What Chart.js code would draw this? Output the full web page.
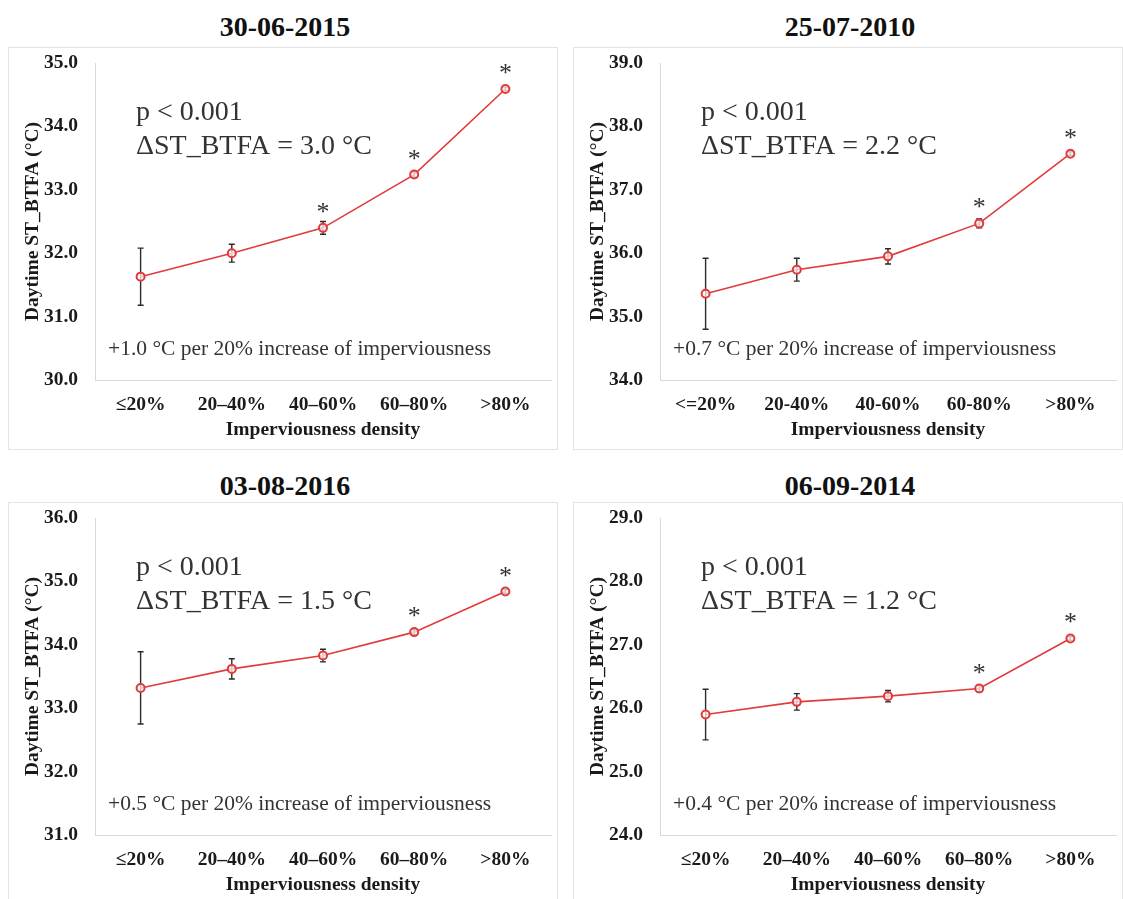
<!DOCTYPE html>
<html>
<head>
<meta charset="utf-8">
<script src="https://cdn.jsdelivr.net/npm/chart.js@4.4.1/dist/chart.umd.min.js"></script>
<style>
  body { margin: 0; width: 1123px; height: 899px; overflow: hidden; background: #fff; position: relative; }
  .title { position: absolute; width: 550px; text-align: center; font: bold 28px "Liberation Serif", "Times New Roman", serif; line-height: 32px; color: #111; }
  .box { position: absolute; width: 550px; height: 403px; border: 1px solid #e4e4e4; box-sizing: border-box; background: #fff; }
  .box canvas { position: absolute; left: 0; top: 0; }
</style>
</head>
<body>
<div class="title" style="left:10px;top:11px">30-06-2015</div>
<div class="title" style="left:575px;top:11px">25-07-2010</div>
<div class="title" style="left:10px;top:470px">03-08-2016</div>
<div class="title" style="left:575px;top:470px">06-09-2014</div>
<div class="box" style="left:8px;top:47px"><canvas id="c1" width="548" height="401"></canvas></div>
<div class="box" style="left:573px;top:47px"><canvas id="c2" width="548" height="401"></canvas></div>
<div class="box" style="left:8px;top:502px"><canvas id="c3" width="548" height="401"></canvas></div>
<div class="box" style="left:573px;top:502px"><canvas id="c4" width="548" height="401"></canvas></div>
<script>
// ----- Data -----
const catsDash = ["≤20%", "20–40%", "40–60%", "60–80%", ">80%"];
const catsHyphen = ["<=20%", "20-40%", "40-60%", "60-80%", ">80%"];

const mean2015 = [31.63, 32.0, 32.4, 33.24, 34.59];
const err2015 = [0.45, 0.14, 0.1, 0.04, 0.03];
const star2015 = [false, false, true, true, true];

const mean2010 = [35.36, 35.74, 35.95, 36.47, 37.57];
const err2010 = [0.56, 0.18, 0.12, 0.07, 0.03];
const star2010 = [false, false, false, true, true];

const mean2016 = [33.32, 33.62, 33.83, 34.2, 34.84];
const err2016 = [0.57, 0.16, 0.1, 0.04, 0.03];
const star2016 = [false, false, false, true, true];

const mean2014 = [25.9, 26.1, 26.19, 26.31, 27.1];
const err2014 = [0.4, 0.13, 0.09, 0.05, 0.03];
const star2014 = [false, false, false, true, true];

const yRange2015 = [30, 35];
const yRange2010 = [34, 39];
const yRange2016 = [31, 36];
const yRange2014 = [24, 29];

const deltaTexts = ["3.0", "2.2", "1.5", "1.2"];
const slopeTexts = ["+1.0", "+0.7", "+0.5", "+0.4"];

const SERIF = '"Liberation Serif", "Times New Roman", serif';
const LINE_RED = "#e23a3a";

// ----- Error bars, stars and notes -----
const extras = {
  id: "extras",
  beforeDatasetsDraw(chart, args, opts) {
    const ctx = chart.ctx;
    const x = chart.scales.x, y = chart.scales.y;
    ctx.save();
    ctx.strokeStyle = "#2b2b2b";
    ctx.lineWidth = 1.4;
    opts.mean.forEach((m, i) => {
      const px = x.getPixelForValue(i);
      const top = y.getPixelForValue(m + opts.err[i]);
      const bot = y.getPixelForValue(m - opts.err[i]);
      ctx.beginPath();
      ctx.moveTo(px, top); ctx.lineTo(px, bot);
      ctx.moveTo(px - 3, top); ctx.lineTo(px + 3, top);
      ctx.moveTo(px - 3, bot); ctx.lineTo(px + 3, bot);
      ctx.stroke();
    });
    ctx.restore();
  },
  afterDatasetsDraw(chart, args, opts) {
    const ctx = chart.ctx;
    const area = chart.chartArea;
    const x = chart.scales.x, y = chart.scales.y;
    ctx.save();
    ctx.fillStyle = "#333";
    ctx.font = "26px " + SERIF;
    ctx.textAlign = "center";
    ctx.textBaseline = "alphabetic";
    const m = ctx.measureText("*");
    const shift = (m.actualBoundingBoxAscent - m.actualBoundingBoxDescent) / 2;
    opts.mean.forEach((v, i) => {
      if (!opts.stars[i]) return;
      const px = x.getPixelForValue(i);
      const py = y.getPixelForValue(v);
      ctx.fillText("*", px, py - 20 + shift);
    });

    ctx.textAlign = "left";
    ctx.textBaseline = "middle";
    ctx.font = "28px " + SERIF;
    ctx.fillText("p < 0.001", area.left + 41, area.top + 50);
    ctx.fillText("ΔST_BTFA = " + opts.delta + " °C", area.left + 41, area.top + 84);
    ctx.font = "21.5px " + SERIF;
    ctx.fillText(opts.slope + " °C per 20% increase of imperviousness", area.left + 13, area.bottom - 31);
    ctx.restore();
  }
};

function makePanel(id, labels, mean, err, stars, yRange, delta, slope) {
  const axisFont = { family: SERIF, size: 19.5, weight: "bold" };
  new Chart(document.getElementById(id), {
    type: "line",
    data: {
      labels: labels,
      datasets: [{
        data: mean,
        borderColor: LINE_RED,
        borderWidth: 1.6,
        pointRadius: 4,
        pointBorderWidth: 2,
        pointBorderColor: LINE_RED,
        pointBackgroundColor: "rgba(255,255,255,0.7)",
        tension: 0
      }]
    },
    options: {
      responsive: false,
      animation: false,
      layout: { padding: { top: 15, left: 0, right: 0, bottom: 0 } },
      plugins: {
        legend: { display: false },
        tooltip: { enabled: false },
        extras: { mean: mean, err: err, stars: stars, delta: delta, slope: slope }
      },
      scales: {
        x: {
          type: "category",
          offset: true,
          grid: { display: false, drawTicks: false },
          border: { display: true, color: "#d9d9d9", width: 1 },
          ticks: { font: axisFont, color: "#1a1a1a", padding: 13, maxRotation: 0 },
          title: { display: true, text: "Imperviousness density", font: axisFont, color: "#1a1a1a", padding: { top: 0, bottom: 7 } },
          afterFit: s => { s.height = 69; }
        },
        y: {
          min: yRange[0],
          max: yRange[1],
          grid: { display: false, drawTicks: false },
          border: { display: true, color: "#d9d9d9", width: 1 },
          ticks: { stepSize: 1, font: axisFont, color: "#1a1a1a", padding: 17, callback: v => v.toFixed(1) },
          title: { display: true, text: "Daytime ST_BTFA (°C)", font: axisFont, color: "#1a1a1a", padding: { top: 12, bottom: 0 } },
          afterFit: s => { s.width = 86; s.paddingTop = 0; s.paddingBottom = 0; }
        }
      }
    },
    plugins: [extras]
  });
}

makePanel("c1", catsDash, mean2015, err2015, star2015, yRange2015, deltaTexts[0], slopeTexts[0]);
makePanel("c2", catsHyphen, mean2010, err2010, star2010, yRange2010, deltaTexts[1], slopeTexts[1]);
makePanel("c3", catsDash, mean2016, err2016, star2016, yRange2016, deltaTexts[2], slopeTexts[2]);
makePanel("c4", catsDash, mean2014, err2014, star2014, yRange2014, deltaTexts[3], slopeTexts[3]);
</script>
</body>
</html>
